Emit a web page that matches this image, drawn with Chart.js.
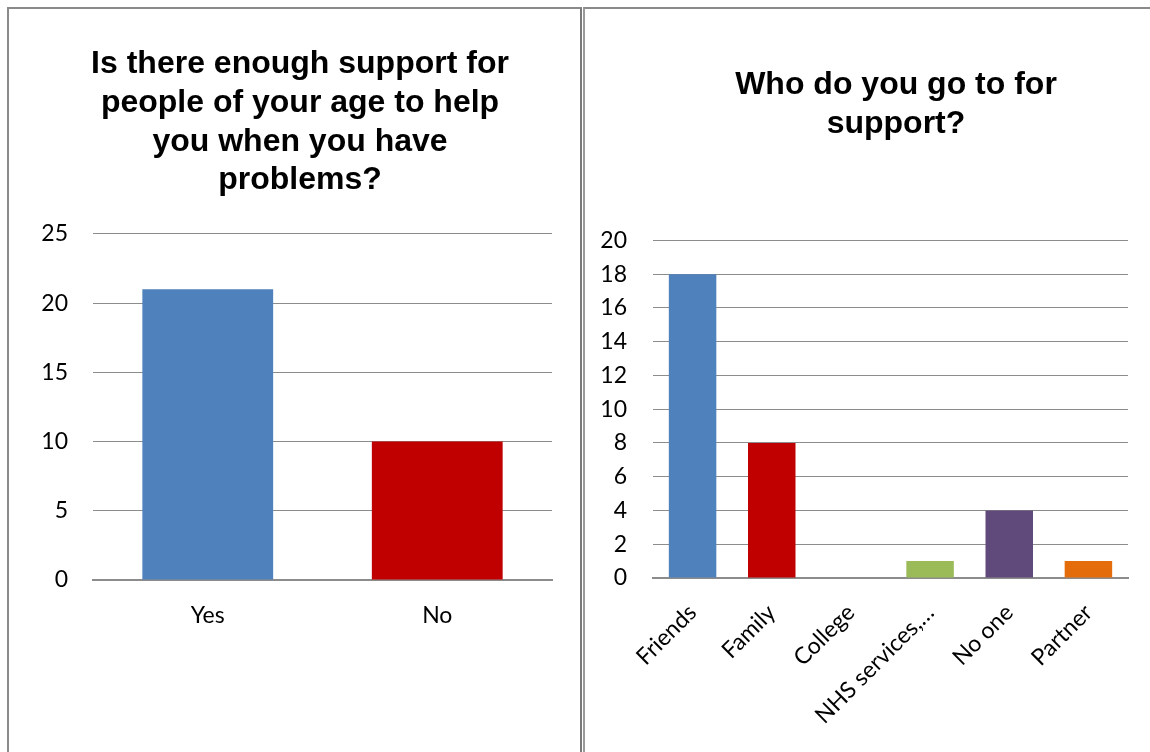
<!DOCTYPE html>
<html>
<head>
<meta charset="utf-8">
<script src="https://cdn.jsdelivr.net/npm/chart.js@4.4.1/dist/chart.umd.min.js"></script>
<style>
  html, body { margin: 0; padding: 0; background: #fff; overflow: hidden; width: 1150px; height: 752px; }
  .box { position: absolute; }
  #leftWrap { left: 10px; top: 10px; width: 580px; height: 742px; }
  #rightWrap { left: 586px; top: 10px; width: 620px; height: 742px; }
  #leftPanel { left: 7px; top: 7px; width: 571px; height: 760px; border-left: 2px solid #8a8a8a; border-top: 2px solid #8a8a8a; border-right: 2px solid #7a7a7a; }
  #rightPanel { left: 583px; top: 7px; width: 600px; height: 760px; border-left: 2px solid #9a9a9a; border-top: 2px solid #8a8a8a; }
</style>
</head>
<body>
<div class="box" id="leftPanel"></div>
<div class="box" id="rightPanel"></div>
<div class="box" id="leftWrap"><canvas id="leftChart" width="580" height="742"></canvas></div>
<div class="box" id="rightWrap"><canvas id="rightChart" width="620" height="742"></canvas></div>
<script>
// data
var enoughLabels = ["Yes", "No"];
var enoughValues = [21, 10];
var enoughColors = ["#4F81BD", "#C00000"];
var enoughTitle = ["Is there enough support for", "people of your age to help", "you when you have", "problems?"];

var whoLabels = ["Friends", "Family", "College", "NHS services,\u2026", "No one", "Partner"];
var whoValues = [18, 8, 0, 1, 4, 1];
var whoColors = ["#4F81BD", "#C00000", "#F79646", "#9BBB59", "#604A7B", "#E46C0A"];
var whoTitle = ["Who do you go to for", "support?"];

var tickFont = { family: "Lato, 'Open Sans', sans-serif", size: 23 };
var titleFont = { family: "'Liberation Sans', Arial, sans-serif", size: 32, weight: "bold", lineHeight: 1.21 };
var gridColor = "#8c8c8c";

// move the title so it is centred on a given x of the canvas
var titleShift = {
    id: "titleShift",
    afterLayout: function(chart, args, opts)
    {
        var t = chart.titleBlock;
        if (!t || opts.center == null) return;
        var dx = opts.center - (t.left + t.right) / 2;
        t.left += dx;
        t.right += dx;
    }
};

function makeChart(id, opts)
{
    return new Chart(document.getElementById(id), {
        type: "bar",
        plugins: [titleShift],
        data: {
            labels: opts.labels,
            datasets: [{
                data: opts.values,
                backgroundColor: opts.colors,
                borderWidth: 0,
                categoryPercentage: 1,
                barPercentage: opts.barPct
            }]
        },
        options: {
            responsive: false,
            animation: false,
            layout: { padding: opts.padding },
            plugins: {
                legend: { display: false },
                tooltip: { enabled: false },
                titleShift: { center: opts.titleCenter },
                title: {
                    display: true,
                    text: opts.title,
                    color: "#000",
                    font: titleFont,
                    padding: opts.titlePad
                }
            },
            scales: {
                x: {
                    grid: { display: false, drawTicks: false },
                    border: { color: gridColor, width: 2 },
                    ticks: {
                        color: "#000",
                        font: tickFont,
                        padding: opts.xPad,
                        autoSkip: false,
                        minRotation: opts.rotation,
                        maxRotation: opts.rotation
                    },
                    afterFit: function(s) { s.height = opts.xHeight; }
                },
                y: {
                    min: 0,
                    max: opts.max,
                    grid: { color: gridColor, lineWidth: 1, drawTicks: false },
                    border: { display: false },
                    ticks: {
                        stepSize: opts.step,
                        color: "#000",
                        font: tickFont,
                        padding: opts.yPad
                    },
                    afterFit: function(s) { s.width = opts.yWidth; }
                }
            }
        }
    });
}

makeChart("leftChart", {
    labels: enoughLabels,
    values: enoughValues,
    colors: enoughColors,
    title: enoughTitle,
    titleCenter: 290,
    barPct: 0.57,
    max: 25,
    step: 5,
    rotation: 0,
    xPad: 22,
    xHeight: 172,
    yWidth: 83,
    yPad: 25,
    padding: { left: 0, right: 38, top: 0, bottom: 0 },
    titlePad: { top: 35, bottom: 34 }
});

makeChart("rightChart", {
    labels: whoLabels,
    values: whoValues,
    colors: whoColors,
    title: whoTitle,
    titleCenter: 310,
    barPct: 0.6,
    max: 20,
    step: 2,
    rotation: 45,
    xPad: 21,
    xHeight: 174,
    yWidth: 67,
    yPad: 26,
    padding: { left: 0, right: 78, top: 0, bottom: 0 },
    titlePad: { top: 56, bottom: 97 }
});
</script>
</body>
</html>
